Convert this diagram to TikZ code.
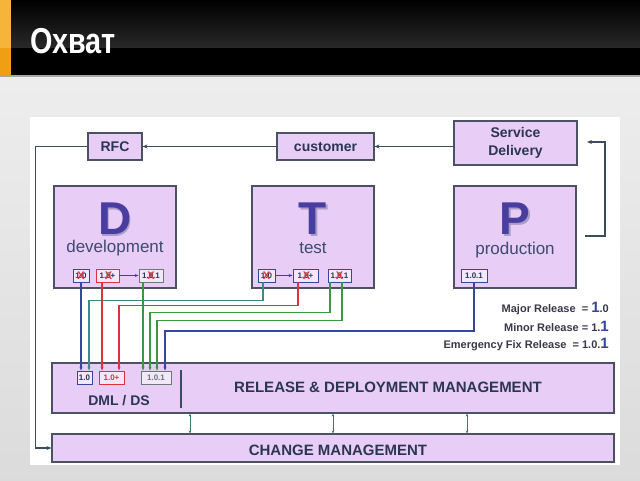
\documentclass[tikz,border=0pt]{standalone}
\usepackage{fontspec}
\setmainfont{Liberation Sans}
\usetikzlibrary{arrows.meta,calc}
\definecolor{boxfill}{HTML}{E8CDF7}
\definecolor{boxline}{HTML}{4A5263}
\definecolor{navy}{HTML}{2B3652}
\definecolor{letter}{HTML}{4A3DA0}
\definecolor{lshadow}{HTML}{A89CC8}
\definecolor{sub}{HTML}{3D4B70}
\definecolor{vblue}{HTML}{3545A0}
\definecolor{vteal}{HTML}{3A8A8C}
\definecolor{vred}{HTML}{E0303C}
\definecolor{vgreen}{HTML}{3A9640}
\definecolor{vgrey}{HTML}{6A7A70}
\definecolor{conn}{HTML}{3B4C5C}
\definecolor{dbl}{HTML}{3A7A6A}
\definecolor{orngA}{HTML}{F5B53A}
\definecolor{orngB}{HTML}{EFA012}
\definecolor{legend}{HTML}{383848}
\definecolor{vfill}{HTML}{F3E8FA}
\newcommand{\fsz}[1]{\fontsize{#1}{#1}\selectfont}
\begin{document}
\begin{tikzpicture}[x=1pt,y=-1pt,
  box/.style={draw=boxline, fill=boxfill, line width=1.1pt, inner sep=0pt, text=navy},
  lbl/.style={font=\bfseries\fsz{14}},
  bigl/.style={font=\bfseries\fsz{46}, text=letter, inner sep=0pt},
  bigsh/.style={font=\bfseries\fsz{46}, text=lshadow, inner sep=0pt},
  subl/.style={font=\fsz{17}, text=sub, inner sep=0pt},
  vbox/.style={draw=#1, fill=vfill, line width=0.8pt, inner sep=0pt, minimum height=13pt, font=\bfseries\fsz{8}, text=navy},
  xmark/.style={text=vred, font=\bfseries\fsz{11}, inner sep=0pt},
  conn/.style={draw=conn, line width=1.3pt, -{Stealth[length=5pt,width=4pt]}},
  vline/.style={draw=#1, line width=1.2pt, -{Stealth[length=4pt,width=3pt]}},
  dblarrow/.style={draw=dbl, line width=0.9pt, {Stealth[length=3pt,width=2.5pt]}-{Stealth[length=3pt,width=2.5pt]}},
  leg/.style={anchor=east, font=\bfseries\fsz{11}, text=legend, inner sep=0pt}
]
\useasboundingbox (0,0) rectangle (640,480);
% background
\shade[top color=white!93!black, bottom color=white!86!black] (0,77) rectangle (640,480);
\fill[white] (30,117) rectangle (620,465);
% header
\shade[top color=black, bottom color=white!16!black] (0,0) rectangle (640,48);
\fill[black] (0,48) rectangle (640,75);
\fill[white!65!black] (0,75) rectangle (640,77);
\fill[orngA] (0,0) rectangle (11,48);
\fill[orngB] (0,48) rectangle (11,75);
\node[anchor=west, text=white, font=\bfseries\fsz{36}, inner sep=0pt] (title) at (30,41) {\scalebox{0.8}[1]{Охват}};

% top row
\node[box, lbl, minimum width=54pt, minimum height=27pt] (rfc) at (115,146.5) {RFC};
\node[box, lbl, minimum width=97pt, minimum height=27pt] (cust) at (325.5,146.5) {customer};
\node[box, lbl, minimum width=123pt, minimum height=44pt, align=center, font=\bfseries\fontsize{14}{18}\selectfont] (sd) at (515.5,143) {Service\\Delivery};

% D T P boxes
\node[box, minimum width=122pt, minimum height=102pt] (d) at (115,237) {};
\node[box, minimum width=122pt, minimum height=102pt] (t) at (313,237) {};
\node[box, minimum width=122pt, minimum height=102pt] (p) at (515,237) {};
\node[bigsh] (dsh) at (116.5,220.5) {D};
\node[bigl] (dl) at (115,219) {D};
\node[subl] (ds) at (115,248) {development};
\node[bigsh] (tsh) at (314.5,220.5) {T};
\node[bigl] (tl) at (313,219) {T};
\node[subl] (ts) at (313,248) {test};
\node[bigsh] (psh) at (516.5,220.5) {P};
\node[bigl] (pl) at (515,219) {P};
\node[subl] (ps) at (515,250) {production};

% version boxes in D
\node[vbox=vblue, minimum width=16pt] (d10) at (81,275.5) {1.0};
\node[vbox=vred, minimum width=23pt] (d10p) at (107.5,275.5) {1.0+};
\node[vbox=vgrey, minimum width=24pt] (d101) at (151,275.5) {1.0.1};
\node[xmark] (dx1) at (d10) {X};
\node[xmark] (dx2) at ($(d10p)+(1,0)$) {X};
\node[xmark] (dx3) at ($(d101)+(0,0)$) {X};
% version boxes in T
\node[vbox=vblue, minimum width=17pt] (t10) at (266.5,275.5) {1.0};
\node[vbox=vblue, minimum width=25pt] (t10p) at (305.5,275.5) {1.0+};
\node[vbox=vblue, minimum width=23pt] (t101) at (339.5,275.5) {1.0.1};
\node[xmark] (tx1) at (t10) {X};
\node[xmark] (tx2) at ($(t10p)+(1,0)$) {X};
\node[xmark] (tx3) at (t101) {X};
% version box in P
\node[vbox=vblue, minimum width=26pt] (p101) at (474,276) {1.0.1};

% bottom boxes
\node[box, minimum width=562pt, minimum height=50pt] (rdm) at (333,388) {};
\node[box, minimum width=562pt, minimum height=28pt] (cm) at (333,448) {};
\node[font=\bfseries\fsz{15}, text=navy, inner sep=0pt] (rdml) at (388,387) {RELEASE \& DEPLOYMENT MANAGEMENT};
\node[font=\bfseries\fsz{14}, text=navy, inner sep=0pt] (dmll) at (119,401) {DML / DS};
\node[font=\bfseries\fsz{15}, text=navy, inner sep=0pt] (cml) at (338,450) {CHANGE MANAGEMENT};
\coordinate (div1) at (181,370);
\coordinate (div2) at (181,408);
\draw[conn, -] (div1) -- (div2);

% DML version boxes
\node[vbox=vblue, minimum width=15pt] (m10) at (84.5,377.5) {1.0};
\node[vbox=vred, minimum width=25pt, text=vred] (m10p) at (111.5,377.5) {1.0+};
\node[vbox=vgrey, minimum width=30pt, text=vgrey] (m101) at (156,377.5) {1.0.1};

% legend
\node[leg] (lg1) at (609,308) {Major Release \ = {\color{vblue}\fsz{15}1}.0};
\node[leg] (lg2) at (609,326) {Minor Release = 1.{\color{vblue}\fsz{15}1}};
\node[leg] (lg3) at (609,344) {Emergency Fix Release \ = 1.0.{\color{vblue}\fsz{15}1}};

% main connectors
\draw[conn] (cust.west) -- (rfc.east);
\draw[conn] (cust.east -| sd.west) -- (cust.east);
\draw[conn] (rfc.west) -- ++(-52,0) |- (cm.west);
\coordinate (pb1) at (585,236);
\coordinate (pb2) at (605,236);
\coordinate (pb3) at (605,142);
\coordinate (pb4) at (587,142);
\draw[conn] (pb1) -- (pb2) -- (pb3) -- (pb4);

% internal arrows
\draw[vline=vblue, line width=1pt] (d10p.east) -- (d101.west);
\draw[vline=vblue, line width=1pt] (t10.east) -- (t10p.west);

% release lines
\draw[vline=vblue] (d10.south) -- (d10.south |- m10.north);
\draw[vline=vteal] ($(t10.south)+(-3.5,0)$) -- ++(0,18) -| ($(m10.north)+(4.5,0)$);
\coordinate (r1) at ($(d10p.south)+(-5.5,0)$);
\draw[vline=vred] (r1) -- (r1 |- m10p.north);
\draw[vline=vred] ($(t10p.south)+(-7.5,0)$) -- ++(0,23) -| ($(m10p.north)+(7.5,0)$);
\coordinate (g1) at ($(d101.south)+(-8,0)$);
\draw[vline=vgreen] (g1) -- (g1 |- m101.north);
\draw[vline=vgreen] ($(t101.south)+(-9.5,0)$) -- ++(0,30) -| ($(m101.north)+(-6,0)$);
\draw[vline=vgreen] ($(t101.south)+(2.5,0)$) -- ++(0,38) -| ($(m101.north)+(1,0)$);
\draw[vline=vblue] (p101.south) -- ++(0,48) -| ($(m101.north)+(9,0)$);

% double arrows
\coordinate (a1) at (190,0);
\coordinate (a2) at (333,0);
\coordinate (a3) at (467,0);
\draw[dblarrow] (rdm.south -| a1) -- (cm.north -| a1);
\draw[dblarrow] (rdm.south -| a2) -- (cm.north -| a2);
\draw[dblarrow] (rdm.south -| a3) -- (cm.north -| a3);
\end{tikzpicture}
\end{document}
